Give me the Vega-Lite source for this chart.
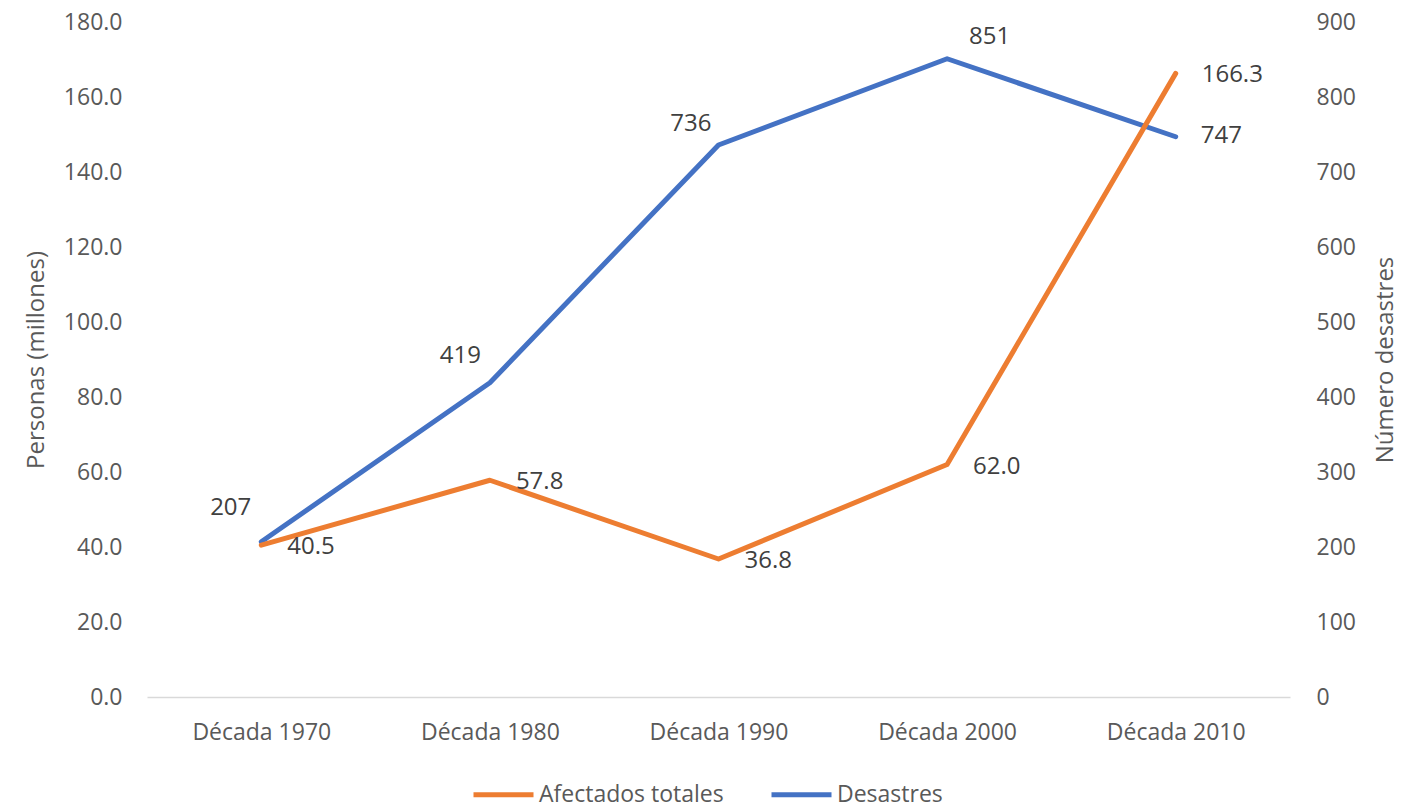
{
  "$schema": "https://vega.github.io/schema/vega-lite/v6.json",
  "width": 1143,
  "height": 675,
  "autosize": {"type": "none"},
  "padding": {"left": 147, "top": 22, "right": 112, "bottom": 109},
  "background": "white",
  "config": {
    "view": {"stroke": null},
    "font": "Open Sans",
    "axis": {"labelFont": "Open Sans", "titleFont": "Open Sans"},
    "legend": {"labelFont": "Open Sans"}
  },
  "data": {
    "values": [
      {"decada": "Década 1970", "serie": "Afectados totales", "valor": 40.5},
      {"decada": "Década 1980", "serie": "Afectados totales", "valor": 57.8},
      {"decada": "Década 1990", "serie": "Afectados totales", "valor": 36.8},
      {"decada": "Década 2000", "serie": "Afectados totales", "valor": 62.0},
      {"decada": "Década 2010", "serie": "Afectados totales", "valor": 166.3},
      {"decada": "Década 1970", "serie": "Desastres", "valor": 207},
      {"decada": "Década 1980", "serie": "Desastres", "valor": 419},
      {"decada": "Década 1990", "serie": "Desastres", "valor": 736},
      {"decada": "Década 2000", "serie": "Desastres", "valor": 851},
      {"decada": "Década 2010", "serie": "Desastres", "valor": 747}
    ]
  },
  "encoding": {
    "x": {
      "field": "decada",
      "type": "nominal",
      "sort": null,
      "title": null,
      "axis": {
        "labelAngle": 0,
        "labelFontSize": 23,
        "labelColor": "#595959",
        "labelPadding": 24,
        "ticks": false,
        "domainColor": "#D9D9D9",
        "domainWidth": 1.5,
        "grid": false
      }
    }
  },
  "layer": [
    {
      "transform": [{"filter": "datum.serie === 'Desastres'"}],
      "encoding": {
        "y": {
          "field": "valor",
          "type": "quantitative",
          "scale": {"domain": [0, 900]},
          "axis": {
            "orient": "right",
            "title": "Número desastres",
            "titleAngle": 270,
            "titleBaseline": "top",
            "titleFontSize": 24,
            "titleFontWeight": "normal",
            "titleColor": "#595959",
            "titlePadding": 18,
            "values": [0, 100, 200, 300, 400, 500, 600, 700, 800, 900],
            "format": "d",
            "labelFontSize": 23,
            "labelColor": "#595959",
            "labelPadding": 26,
            "ticks": false,
            "domain": false,
            "grid": false
          }
        }
      },
      "layer": [
        {
          "mark": {"type": "line", "strokeWidth": 5, "strokeCap": "round", "strokeJoin": "round"},
          "encoding": {
            "color": {
              "field": "serie",
              "type": "nominal",
              "scale": {"domain": ["Afectados totales", "Desastres"], "range": ["#ED7D31", "#4472C4"]},
              "legend": {
                "title": null,
                "orient": "none",
                "direction": "horizontal",
                "legendX": 324,
                "legendY": 740,
                "symbolType": "stroke",
                "symbolStrokeWidth": 5,
                "symbolSize": 3600,
                "labelFontSize": 23,
                "labelColor": "#595959",
                "labelOffset": 3,
                "labelLimit": 400,
                "columnPadding": 37
              }
            }
          }
        },
        {
          "transform": [{"filter": "datum.decada === 'Década 1970'"}],
          "mark": {"type": "text", "align": "right", "baseline": "middle", "dx": -10, "dy": -34, "fontSize": 24, "color": "#404040"},
          "encoding": {"text": {"field": "valor", "type": "quantitative", "format": "d"}}
        },
        {
          "transform": [{"filter": "datum.decada === 'Década 1980'"}],
          "mark": {"type": "text", "align": "right", "baseline": "middle", "dx": -9, "dy": -27, "fontSize": 24, "color": "#404040"},
          "encoding": {"text": {"field": "valor", "type": "quantitative", "format": "d"}}
        },
        {
          "transform": [{"filter": "datum.decada === 'Década 1990'"}],
          "mark": {"type": "text", "align": "right", "baseline": "middle", "dx": -7, "dy": -21, "fontSize": 24, "color": "#404040"},
          "encoding": {"text": {"field": "valor", "type": "quantitative", "format": "d"}}
        },
        {
          "transform": [{"filter": "datum.decada === 'Década 2000'"}],
          "mark": {"type": "text", "align": "left", "baseline": "middle", "dx": 22, "dy": -22, "fontSize": 24, "color": "#404040"},
          "encoding": {"text": {"field": "valor", "type": "quantitative", "format": "d"}}
        },
        {
          "transform": [{"filter": "datum.decada === 'Década 2010'"}],
          "mark": {"type": "text", "align": "left", "baseline": "middle", "dx": 25, "dy": -1, "fontSize": 24, "color": "#404040"},
          "encoding": {"text": {"field": "valor", "type": "quantitative", "format": "d"}}
        }
      ]
    },
    {
      "transform": [{"filter": "datum.serie === 'Afectados totales'"}],
      "encoding": {
        "y": {
          "field": "valor",
          "type": "quantitative",
          "scale": {"domain": [0, 180]},
          "axis": {
            "orient": "left",
            "title": "Personas (millones)",
            "titleFontSize": 24,
            "titleFontWeight": "normal",
            "titleColor": "#595959",
            "titlePadding": 15,
            "values": [0, 20, 40, 60, 80, 100, 120, 140, 160, 180],
            "format": ".1f",
            "labelFontSize": 23,
            "labelColor": "#595959",
            "labelPadding": 25,
            "ticks": false,
            "domain": false,
            "grid": false
          }
        }
      },
      "layer": [
        {
          "mark": {"type": "line", "strokeWidth": 5, "strokeCap": "round", "strokeJoin": "round"},
          "encoding": {
            "color": {"field": "serie", "type": "nominal"}
          }
        },
        {
          "mark": {"type": "text", "align": "left", "baseline": "middle", "dx": 26, "dy": 2, "fontSize": 24, "color": "#404040"},
          "encoding": {"text": {"field": "valor", "type": "quantitative", "format": ".1f"}}
        }
      ]
    }
  ],
  "resolve": {"scale": {"y": "independent"}}
}
